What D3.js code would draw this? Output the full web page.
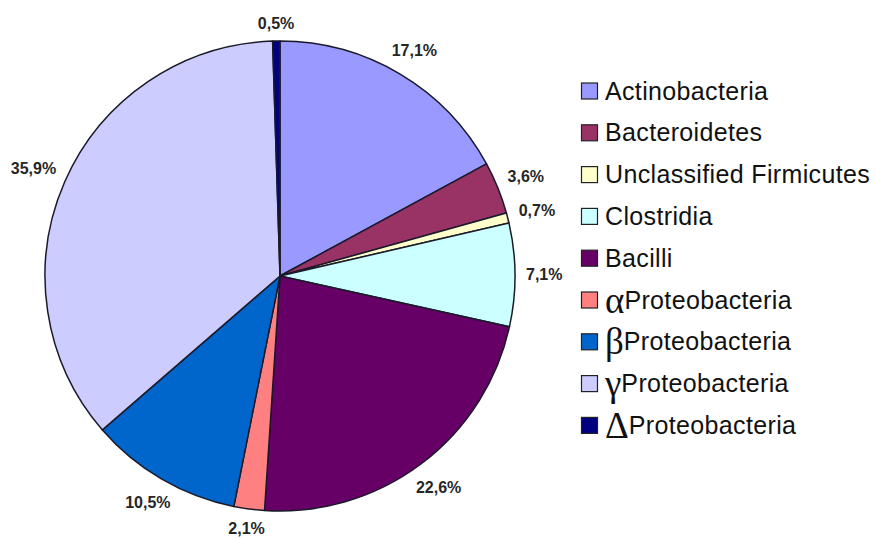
<!DOCTYPE html>
<html>
<head>
<meta charset="utf-8">
<script src="https://cdn.jsdelivr.net/npm/d3@7"></script>
<style>
  html, body { margin: 0; padding: 0; background: #fff; }
  svg { display: block; }
</style>
</head>
<body>
<svg id="chart" width="875" height="538"></svg>
<script>
// Taxa in clockwise order starting at 12 o'clock
const taxa = ["Actinobacteria", "Bacteroidetes", "Unclassified Firmicutes", "Clostridia",
              "Bacilli", "αProteobacteria", "βProteobacteria", "γProteobacteria", "ΔProteobacteria"];
const greek = ["", "", "", "", "", "α", "β", "γ", "Δ"];
const names = ["Actinobacteria", "Bacteroidetes", "Unclassified Firmicutes", "Clostridia",
               "Bacilli", "Proteobacteria", "Proteobacteria", "Proteobacteria", "Proteobacteria"];
const shares = [17.1, 3.6, 0.7, 7.1, 22.6, 2.1, 10.5, 35.9, 0.5];
const valueLabels = ["17,1%", "3,6%", "0,7%", "7,1%", "22,6%", "2,1%", "10,5%", "35,9%", "0,5%"];
const colors = ["#9999ff", "#993366", "#ffffcc", "#ccffff", "#660066",
                "#ff8080", "#0066cc", "#ccccff", "#000080"];

const svg = d3.select("#chart");
const cx = 280, cy = 276, R = 235;

const pie = d3.pie().sort(null).value(d => d)(shares);
const arc = d3.arc().innerRadius(0).outerRadius(R);

const g = svg.append("g").attr("transform", `translate(${cx},${cy})`);

g.selectAll("path.slice")
  .data(pie)
  .join("path")
  .attr("class", "slice")
  .attr("d", arc)
  .attr("fill", (d, i) => colors[i])
  .attr("stroke", "#1a1a2a")
  .attr("stroke-width", 1.5)
  .attr("stroke-linejoin", "round");

// Value labels outside each slice: box edge sits just past the rim
const gap = 11;
const labels = g.selectAll("text.val")
  .data(pie)
  .join("text")
  .attr("class", "val")
  .attr("text-anchor", "middle")
  .attr("dominant-baseline", "central")
  .style("font-family", "'Liberation Sans', Arial, sans-serif")
  .style("font-weight", "bold")
  .style("font-size", "16px")
  .attr("fill", "#262626")
  .text((d, i) => valueLabels[i]);

labels.each(function(d) {
  const b = this.getBBox();
  const a = (d.startAngle + d.endAngle) / 2;
  const s = Math.sin(a), c = -Math.cos(a);
  const ext = Math.abs(s) * b.width / 2 + Math.abs(c) * 12 / 2;
  const r = R + gap + ext;
  d3.select(this).attr("x", s * r).attr("y", c * r);
});

// Legend
const legend = svg.append("g").attr("transform", "translate(581,91)");
const rowH = 41.8;
const rows = legend.selectAll("g.row")
  .data(taxa)
  .join("g")
  .attr("class", "row")
  .attr("transform", (d, i) => `translate(0,${i * rowH})`);

rows.append("rect")
  .attr("x", 0.5).attr("y", -8)
  .attr("width", 16).attr("height", 16)
  .attr("fill", (d, i) => colors[i])
  .attr("stroke", "#222")
  .attr("stroke-width", 1.2);

const txt = rows.append("text")
  .attr("x", 24)
  .attr("y", 8.5)
  .style("font-family", "'Liberation Sans', Arial, sans-serif")
  .style("font-size", "25px")
  .style("letter-spacing", "0.35px")
  .attr("fill", "#111");

txt.each(function(d, i) {
  const t = d3.select(this);
  if (greek[i]) {
    t.append("tspan")
      .style("font-family", "'Liberation Serif', 'Times New Roman', serif")
      .style("font-size", "37px")
      .style("letter-spacing", "0px")
      .attr("dy", 4)
      .text(greek[i]);
    t.append("tspan").attr("dy", -4).text(names[i]);
  } else {
    t.text(names[i]);
  }
});
</script>
</body>
</html>
